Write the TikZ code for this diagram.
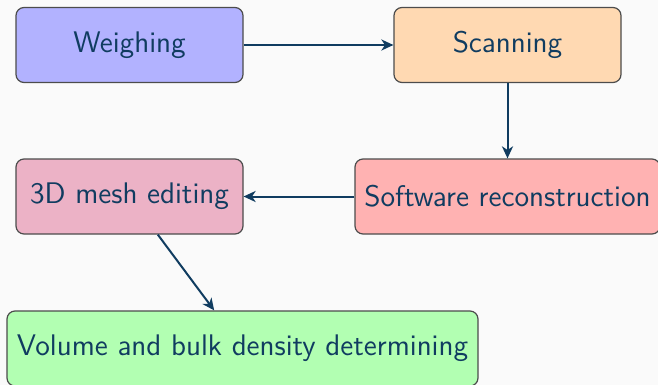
\documentclass[tikz,border=0pt]{standalone}
\usetikzlibrary{arrows.meta}
\definecolor{txt}{RGB}{16,60,96}
\definecolor{bg}{RGB}{250,250,250}
\begin{document}
\begin{tikzpicture}[x=0.5pt,y=-0.5pt,
  box/.style={draw=black!70, rounded corners=4pt, line width=0.6pt, text=txt,
    font=\sffamily\fontsize{14.9}{17}\selectfont, minimum height=37.5pt, inner sep=0pt},
  conn/.style={draw=txt, line width=1pt, -{Stealth[length=6pt,width=5.5pt,inset=1.8pt]}}]
\fill[bg] (0,0) rectangle (658,385);
\useasboundingbox (0,0) rectangle (658,385);
\node[box, fill=blue!30, minimum width=113.5pt] (w) at (129.5,45) {Weighing};
\node[box, fill=orange!30, minimum width=113.5pt] (s) at (507.5,45) {Scanning};
\node[box, fill=red!30, minimum width=152.5pt] (r) at (507.5,196.5) {Software reconstruction};
\node[box, fill=purple!30, minimum width=113.5pt] (m) at (129.5,196.5) {3D mesh editing};
\node[box, fill=green!30, minimum width=235.5pt] (v) at (242.5,348.5) {Volume and bulk density determining};
\draw[conn] (w) -- (s);
\draw[conn] (s) -- (r);
\draw[conn] (r) -- (m);
\draw[conn] (m) -- (v);
\end{tikzpicture}
\end{document}
